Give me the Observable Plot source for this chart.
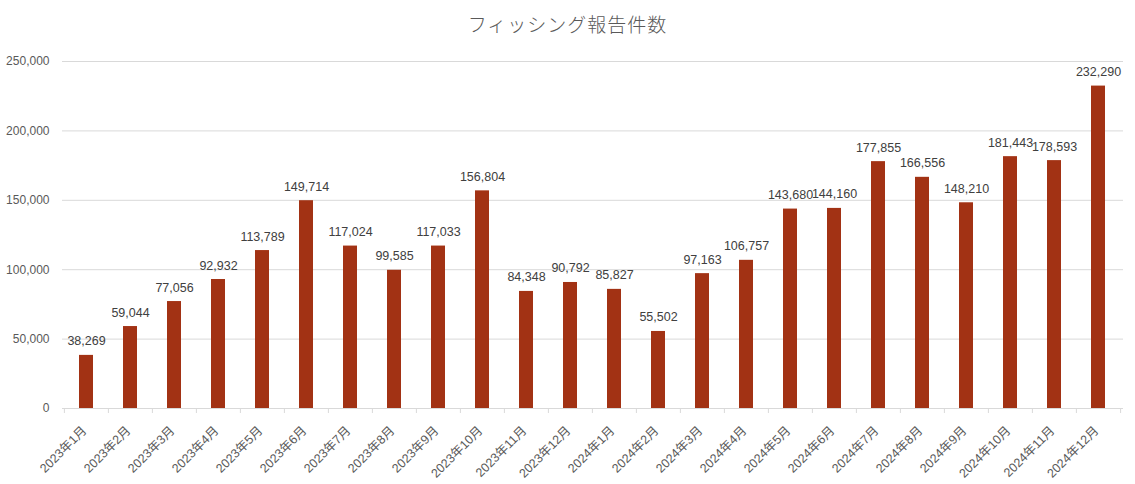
<!DOCTYPE html>
<html><head><meta charset="utf-8">
<script src="https://cdn.jsdelivr.net/npm/d3@7"></script>
<script src="https://cdn.jsdelivr.net/npm/@observablehq/plot@0.6"></script>
<style>
body{margin:0;background:#fff;font-family:"Liberation Sans","Noto Sans CJK JP",sans-serif;}
#title{height:40px;line-height:48px;text-align:center;font-size:19px;color:#595959;font-family:"Noto Sans CJK JP","Liberation Sans",sans-serif;font-weight:300;letter-spacing:1px;}
</style></head><body>
<div id="title">フィッシング報告件数</div>
<div id="chart"></div>
<script>
const months = ["2023年1月","2023年2月","2023年3月","2023年4月","2023年5月","2023年6月","2023年7月","2023年8月","2023年9月","2023年10月","2023年11月","2023年12月","2024年1月","2024年2月","2024年3月","2024年4月","2024年5月","2024年6月","2024年7月","2024年8月","2024年9月","2024年10月","2024年11月","2024年12月"];
const reports = [38269,59044,77056,92932,113789,149714,117024,99585,117033,156804,84348,90792,85827,55502,97163,106757,143680,144160,177855,166556,148210,181443,178593,232290];
const yTicks = [0,50000,100000,150000,200000,250000];
const data = months.map((m,i)=>({month:m, value:reports[i]}));

const W = 1135, H = 444, ML = 62, MR = 12, MT = 21, MB = 76;
const step = (W - ML - MR) / months.length;
const fmt = d3.format(",");
const font = "Liberation Sans, Noto Sans CJK JP, sans-serif";

const chart = Plot.plot({
  width: W, height: H,
  marginLeft: ML, marginRight: MR, marginTop: MT, marginBottom: MB,
  style: {fontFamily: font, fontSize: "12px", color: "#595959", background: "#fff"},
  x: {domain: months, paddingInner: 0.68, paddingOuter: 0.34, label: null},
  y: {domain: [0, 250000], label: null},
  marks: [
    Plot.gridY(yTicks, {stroke: "#d9d9d9", strokeOpacity: 1}),
    Plot.axisY(yTicks, {tickSize: 0, tickPadding: 13, tickFormat: fmt, fill: "#595959", fontSize: 12, label: null}),
    Plot.barY(data, {x: "month", y: "value", fill: "#A23214"}),
    Plot.ruleY([0], {stroke: "#d9d9d9"}),
    Plot.axisX({tickSize: 0, tickRotate: -45, tickPadding: 20, dx: -2, fill: "#595959", fontSize: 12.5, label: null, textAnchor: "end"}),
    Plot.axisX(months, {tickSize: 5, text: null, dx: -step/2, stroke: "#d9d9d9", label: null}),
    Plot.axisX([months[months.length-1]], {tickSize: 5, text: null, dx: step/2, stroke: "#d9d9d9", label: null}),
    Plot.text(data, {x: "month", y: "value", text: d => fmt(d.value), dy: -14, fill: "#404040", fontSize: 12.5})
  ]
});
document.getElementById("chart").appendChild(chart);
</script>
</body></html>
